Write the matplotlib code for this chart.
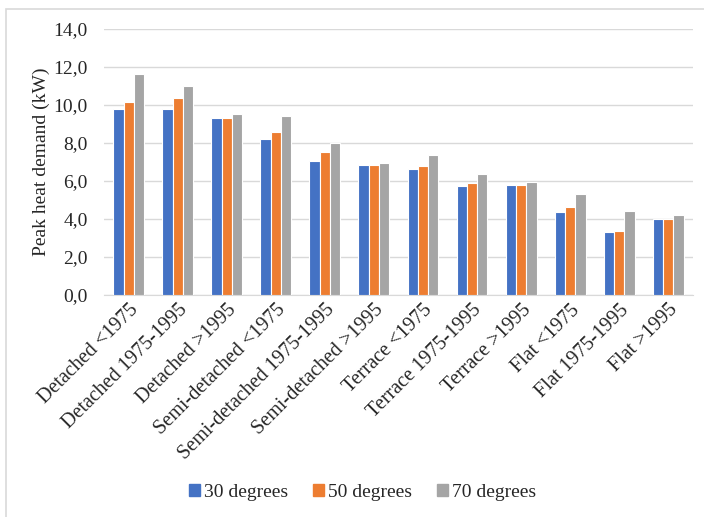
import numpy as np
import matplotlib
matplotlib.use("Agg")
import matplotlib.pyplot as plt
import matplotlib.patches as mpatches
from matplotlib.ticker import FuncFormatter, MultipleLocator

plt.rcParams["font.family"] = ["Liberation Serif", "DejaVu Serif"]

# Dwelling types and peak heat demand (kW) per tilt angle
categories = [
    "Detached <1975", "Detached 1975-1995", "Detached >1995",
    "Semi-detached <1975", "Semi-detached 1975-1995", "Semi-detached >1995",
    "Terrace <1975", "Terrace 1975-1995", "Terrace >1995",
    "Flat <1975", "Flat 1975-1995", "Flat >1995",
]
deg30 = [9.8, 9.8, 9.33, 8.19, 7.05, 6.84, 6.61, 5.74, 5.79, 4.39, 3.33, 4.02]
deg50 = [10.15, 10.39, 9.33, 8.56, 7.51, 6.84, 6.79, 5.88, 5.79, 4.65, 3.39, 4.02]
deg70 = [11.65, 11.0, 9.53, 9.42, 8.0, 6.96, 7.37, 6.35, 5.93, 5.3, 4.42, 4.19]
series_labels = ["30 degrees", "50 degrees", "70 degrees"]
colors = ["#4472C4", "#ED7D31", "#A5A5A5"]
text_color = "#262626"

fig = plt.figure(figsize=(7.04, 5.17), dpi=100)
ax = fig.add_axes([0.148, 0.4294, 0.836, 0.5145])

x = np.arange(len(categories))
w = 0.21
for i, (vals, c) in enumerate(zip([deg30, deg50, deg70], colors)):
    ax.bar(x + (i - 1) * w, vals, width=w, color=c, edgecolor="white",
           linewidth=0.8, zorder=3)

ax.set_xlim(-0.5, len(categories) - 0.5)
ax.set_ylim(0, 14)
ax.yaxis.set_major_locator(MultipleLocator(2))
ax.yaxis.set_major_formatter(FuncFormatter(lambda v, p: f"{v:.1f}".replace(".", ",")))
ax.grid(axis="y", color="#d9d9d9", linewidth=1, zorder=0)

for s in ["top", "right", "left"]:
    ax.spines[s].set_visible(False)
ax.spines["bottom"].set_color("#d9d9d9")
ax.tick_params(axis="both", length=0, labelsize=14, colors=text_color)
ax.tick_params(axis="y", pad=12)
ax.tick_params(axis="x", pad=4)

ax.set_xticks(x)
ax.set_xticklabels(categories, rotation=45, ha="right", rotation_mode="anchor",
                   fontsize=14.5)
ax.set_ylabel("Peak heat demand (kW)", fontsize=14, color=text_color, labelpad=2)

handles = [mpatches.Patch(color=c, label=l) for c, l in zip(colors, series_labels)]
fig.legend(handles=handles, loc="center", ncol=3, frameon=False,
           bbox_to_anchor=(0.515, 0.048), fontsize=14, handlelength=0.55,
           handleheight=0.55, handletextpad=0.2, columnspacing=1.3,
           labelcolor=text_color)

# light chart border
fig.patches.append(mpatches.Rectangle((0.008, -0.05), 1.05, 1.033,
                                      transform=fig.transFigure, fill=False,
                                      edgecolor="#d9d9d9", linewidth=1.2))

fig.savefig("out.png", dpi=100)
